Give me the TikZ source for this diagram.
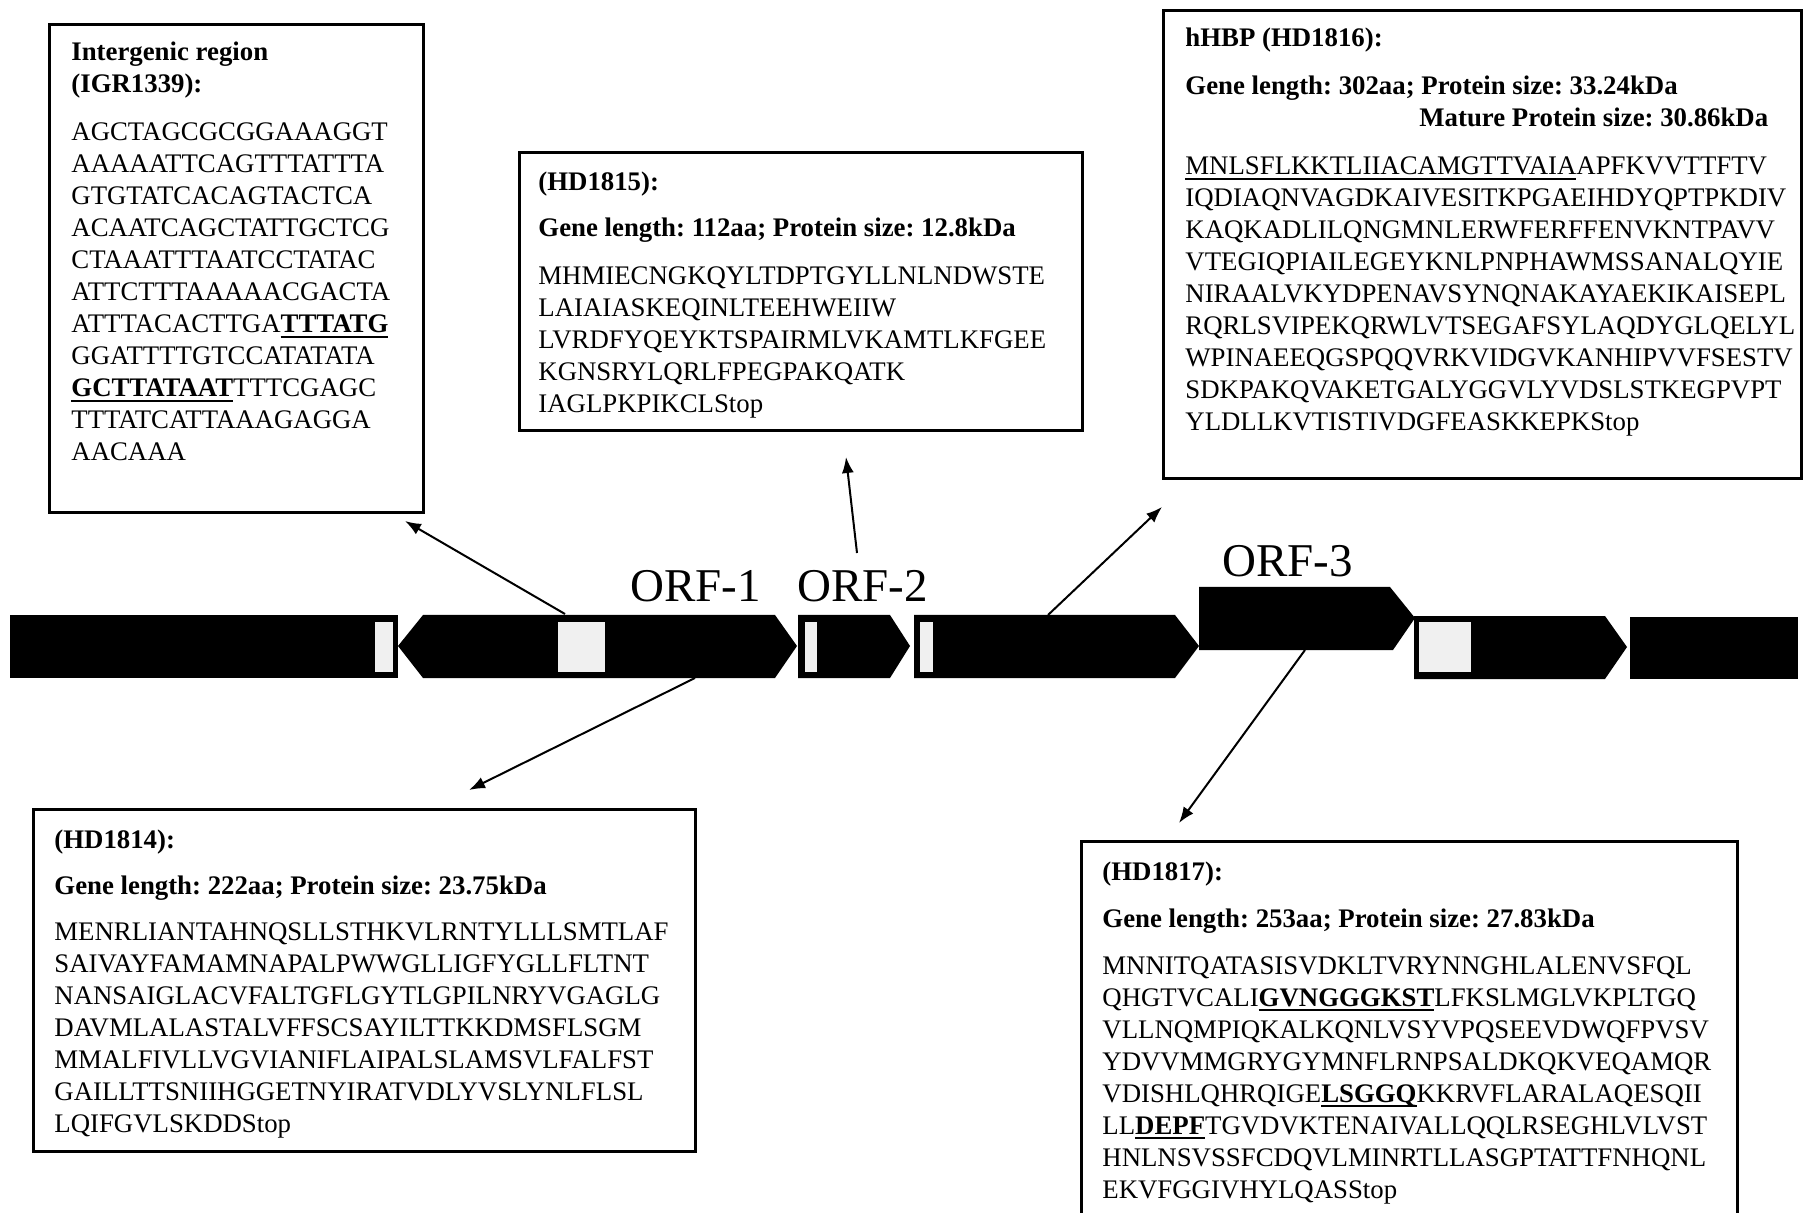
\documentclass[tikz,border=0pt]{standalone}
\usepackage{fontspec}
\setmainfont{Liberation Serif}
\usetikzlibrary{arrows.meta,positioning}
\newsavebox{\seqlinebox}
\newcommand{\seqline}[1]{\sbox{\seqlinebox}{#1}\rlap{\rule[-2.6pt]{\wd\seqlinebox}{0.9pt}}\usebox{\seqlinebox}}
\newcommand{\motif}[1]{\seqline{\textbf{#1}}}

\begin{document}
\begin{tikzpicture}[
    x=0.5pt, y=-0.5pt,
    >={Latex[length=8pt,width=6pt]},
    panel/.style={draw, line width=1.3pt, anchor=north west, inner sep=0pt},
    seq/.style={anchor=north west, inner sep=0pt, align=left, font=\fontsize{13.4}{16}\selectfont\frenchspacing},
    gene/.style={fill=black},
    slot/.style={fill=gray!12},
    orf/.style={anchor=base west, inner sep=0pt, font=\fontsize{23.5}{26}\selectfont},
    link/.style={->, line width=1pt}
]
\clip (0,0) rectangle (1804,1213);
\fill[white] (0,0) rectangle (1804,1213);

% gene track
\fill[gene] (10,615) rectangle (398,678);
\fill[gene] (398,646) -- (423,615) -- (775,615) -- (797,646) -- (775,678) -- (423,678) -- cycle;
\fill[gene] (798,615) -- (890,615) -- (910,646) -- (890,678) -- (798,678) -- cycle;
\fill[gene] (914,615) -- (1175,615) -- (1199,646) -- (1175,678) -- (914,678) -- cycle;
\fill[gene] (1199,587) -- (1390,587) -- (1415,618) -- (1393,650) -- (1199,650) -- cycle;
\fill[gene] (1414,616) -- (1605,616) -- (1627,647) -- (1605,679) -- (1414,679) -- cycle;
\fill[gene] (1630,617) rectangle (1798,679);
\foreach \a/\b in {375/393, 558/605, 805/817, 920/933, 1419/1471}
  \fill[slot] (\a,622) rectangle (\b,672);

\node[orf] (orf1) at (630,602) {ORF-1};
\node[orf] (orf2) at (797,602) {ORF-2};
\node[orf] (orf3) at (1222,577) {ORF-3};

% sequence panels
\node[panel, minimum width=187pt, minimum height=244pt] (igr) at (48,23) {};
\node[seq] (igrtext) at (71,42) {\textbf{Intergenic region}\\
\textbf{(IGR1339):}\\[8pt]
AGCTAGCGCGGAAAGGT\\
AAAAATTCAGTTTATTTA\\
GTGTATCACAGTACTCA\\
ACAATCAGCTATTGCTCG\\
CTAAATTTAATCCTATAC\\
ATTCTTTAAAAACGACTA\\
ATTTACACTTGA\motif{TTTATG}\\
GGATTTTGTCCATATATA\\
\motif{GCTTATAAT}TTTCGAGC\\
TTTATCATTAAAGAGGA\\
AACAAA};

\node[panel, minimum width=281.5pt, minimum height=139pt] (hd1815) at (518,151) {};
\node[seq] (hd1815text) at (538,172) {\textbf{(HD1815):}\\[7pt]
\textbf{Gene length: 112aa; Protein size: 12.8kDa}\\[8pt]
MHMIECNGKQYLTDPTGYLLNLNDWSTE\\
LAIAIASKEQINLTEEHWEIIW\\
LVRDFYQEYKTSPAIRMLVKAMTLKFGEE\\
KGNSRYLQRLFPEGPAKQATK\\
IAGLPKPIKCLStop};

\node[panel, minimum width=319pt, minimum height=234pt] (hhbp) at (1162,9) {};
\node[seq] (hhbptext) at (1185,28) {\textbf{hHBP (HD1816):}\\[8pt]
\textbf{Gene length: 302aa; Protein size: 33.24kDa}\\
\hspace*{117pt}\textbf{Mature Protein size: 30.86kDa}\\[8pt]
\seqline{MNLSFLKKTLIIACAMGTTVAIA}APFKVVTTFTV\\
IQDIAQNVAGDKAIVESITKPGAEIHDYQPTPKDIV\\
KAQKADLILQNGMNLERWFERFFENVKNTPAVV\\
VTEGIQPIAILEGEYKNLPNPHAWMSSANALQYIE\\
NIRAALVKYDPENAVSYNQNAKAYAEKIKAISEPL\\
RQRLSVIPEKQRWLVTSEGAFSYLAQDYGLQELYL\\
WPINAEEQGSPQQVRKVIDGVKANHIPVVFSESTV\\
SDKPAKQVAKETGALYGGVLYVDSLSTKEGPVPT\\
YLDLLKVTISTIVDGFEASKKEPKStop};

\node[panel, minimum width=331pt, minimum height=171pt] (hd1814) at (32,808) {};
\node[seq] (hd1814text) at (54,829) {\textbf{(HD1814):}\\[7pt]
\textbf{Gene length: 222aa; Protein size: 23.75kDa}\\[7pt]
MENRLIANTAHNQSLLSTHKVLRNTYLLLSMTLAF\\
SAIVAYFAMAMNAPALPWWGLLIGFYGLLFLTNT\\
NANSAIGLACVFALTGFLGYTLGPILNRYVGAGLG\\
DAVMLALASTALVFFSCSAYILTTKKDMSFLSGM\\
MMALFIVLLVGVIANIFLAIPALSLAMSVLFALFST\\
GAILLTTSNIIHGGETNYIRATVDLYVSLYNLFLSL\\
LQIFGVLSKDDStop};

\node[panel, minimum width=328pt, minimum height=188pt] (hd1817) at (1080,840) {};
\node[seq] (hd1817text) at (1102,861) {\textbf{(HD1817):}\\[7.5pt]
\textbf{Gene length: 253aa; Protein size: 27.83kDa}\\[7.5pt]
MNNITQATASISVDKLTVRYNNGHLALENVSFQL\\
QHGTVCALI\motif{GVNGGGKST}LFKSLMGLVKPLTGQ\\
VLLNQMPIQKALKQNLVSYVPQSEEVDWQFPVSV\\
YDVVMMGRYGYMNFLRNPSALDKQKVEQAMQR\\
VDISHLQHRQIGE\motif{LSGGQ}KKRVFLARALAQESQII\\
LL\motif{DEPF}TGVDVKTENAIVALLQQLRSEGHLVLVST\\
HNLNSVSSFCDQVLMINRTLLASGPTATTFNHQNL\\
EKVFGGIVHYLQASStop};

% connectors
\coordinate (orf1top) at (565,614);
\coordinate (orf1bot) at (695,678);
\coordinate (orf2top) at (857,553);
\coordinate (bar4top) at (1048,615);
\coordinate (orf3bot) at (1305,650);
\coordinate (igrfoot) at (405,521);
\coordinate (hd1815foot) at (846,457);
\coordinate (hhbpfoot) at (1162,507);
\coordinate (hd1814head) at (469,790);
\coordinate (hd1817head) at (1179,823);
\draw[link] (orf1top) -- (igrfoot);
\draw[link] (orf2top) -- (hd1815foot);
\draw[link] (bar4top) -- (hhbpfoot);
\draw[link] (orf1bot) -- (hd1814head);
\draw[link] (orf3bot) -- (hd1817head);
\end{tikzpicture}
\end{document}
